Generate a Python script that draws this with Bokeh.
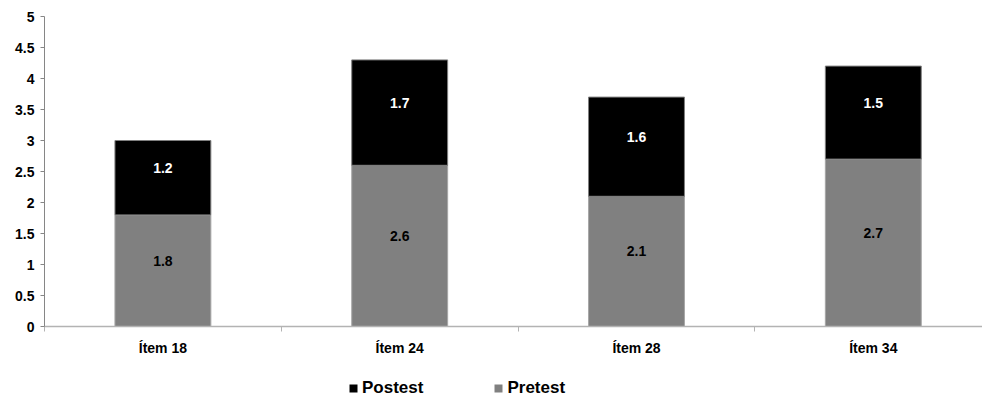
from bokeh.plotting import figure
from bokeh.layouts import column
from bokeh.models import (ColumnDataSource, Range1d, FixedTicker, Legend, LegendItem)
from bokeh.core.properties import value
from bokeh.embed import file_html
from bokeh.resources import INLINE

# ---- data ----
categories = ["Ítem 18", "Ítem 24", "Ítem 28", "Ítem 34"]
series_names = ["Pretest", "Postest"]
pretest = [1.8, 2.6, 2.1, 2.7]
postest = [1.2, 1.7, 1.6, 1.5]
y_ticks = [0, 0.5, 1, 1.5, 2, 2.5, 3, 3.5, 4, 4.5, 5]
y_tick_labels = ["0", "0.5", "1", "1.5", "2", "2.5", "3", "3.5", "4", "4.5", "5"]
colors = {"Pretest": "#808080", "Postest": "#000000"}

FONT = "Liberation Sans"
n = len(categories)
centers = [i + 0.5 for i in range(n)]
bounds = [float(i) for i in range(n)]
tops = [a + b for a, b in zip(pretest, postest)]

src = ColumnDataSource(dict(
    x=centers, pre=pretest, post=postest, top=tops,
    pre_mid=[a / 2 for a in pretest],
    post_mid=[a + b / 2 for a, b in zip(pretest, postest)],
    pre_lbl=[f"{v:.1f}" for v in pretest],
    post_lbl=[f"{v:.1f}" for v in postest],
))

p = figure(width=982, height=360, output_backend="svg", toolbar_location=None,
           x_range=Range1d(0, 938 / 236.8), y_range=Range1d(0, 5),
           min_border_left=44, min_border_right=0, min_border_top=16,
           min_border_bottom=34)
p.outline_line_color = None
p.grid.grid_line_color = None
p.background_fill_color = "white"
p.border_fill_color = "white"

r_pre = p.vbar(x="x", bottom=0, top="pre", width=0.405, source=src,
               fill_color=colors["Pretest"], line_color="#a6a6a6", line_width=1)
r_post = p.vbar(x="x", bottom="pre", top="top", width=0.405, source=src,
                fill_color=colors["Postest"], line_color="#7f7f7f", line_width=1)

p.text(x="x", y="pre_mid", text="pre_lbl", source=src, text_align="center",
       text_baseline="middle", y_offset=-10, text_color="#000000",
       text_font=value(FONT), text_font_style="bold", text_font_size="14px")
p.text(x="x", y="post_mid", text="post_lbl", source=src, text_align="center",
       text_baseline="middle", y_offset=-10, text_color="#ffffff",
       text_font=value(FONT), text_font_style="bold", text_font_size="14px")

# y axis
ya = p.yaxis[0]
ya.ticker = FixedTicker(ticks=y_ticks, minor_ticks=[])
ya.major_label_overrides = {t: l for t, l in zip(y_ticks, y_tick_labels)}
ya.axis_line_color = "#868686"
ya.major_tick_line_color = "#868686"
ya.major_tick_out = 4
ya.major_tick_in = 0
ya.minor_tick_line_color = None
ya.major_label_standoff = 6
ya.major_label_text_font = FONT
ya.major_label_text_font_style = "bold"
ya.major_label_text_font_size = "14px"
ya.major_label_text_color = "#000000"

# x axis
xa = p.xaxis[0]
xa.ticker = FixedTicker(ticks=centers, minor_ticks=bounds)
xa.major_label_overrides = {c: l for c, l in zip(centers, categories)}
xa.axis_line_color = "#b3b3b3"
xa.axis_line_width = 1.5
xa.major_tick_line_color = None
xa.major_tick_out = 0
xa.major_tick_in = 0
xa.minor_tick_line_color = "#b3b3b3"
xa.minor_tick_out = 5
xa.minor_tick_in = 0
xa.major_label_standoff = 8
xa.major_label_text_font = FONT
xa.major_label_text_font_style = "bold"
xa.major_label_text_font_size = "14px"
xa.major_label_text_color = "#000000"

# legend strip below the chart (swatch renderers have zero height)
lg = figure(width=982, height=39, output_backend="svg", toolbar_location=None,
            x_range=Range1d(0, 1), y_range=Range1d(0, 1),
            x_axis_location=None, y_axis_location=None,
            min_border=0)
lg.outline_line_color = None
lg.grid.grid_line_color = None
lr = {}
for name in series_names:
    s = ColumnDataSource(dict(x=[0.5], top=[0.0]))
    lr[name] = lg.vbar(x="x", top="top", bottom=0, width=0.0, source=s,
                       fill_color=colors[name], line_color=None)

legend = Legend(items=[LegendItem(label=name, renderers=[lr[name]])
                       for name in reversed(series_names)],
                orientation="horizontal", location=(304, 1),
                glyph_width=10, glyph_height=10, label_standoff=4, spacing=70,
                padding=0, margin=0, border_line_color=None,
                background_fill_alpha=0, label_height=20,
                label_text_font=FONT, label_text_font_style="bold",
                label_text_font_size="17px", label_text_color="#000000")
lg.add_layout(legend, "center")

layout = column(p, lg, spacing=0)
open("out.html", "w").write(file_html(layout, INLINE))
